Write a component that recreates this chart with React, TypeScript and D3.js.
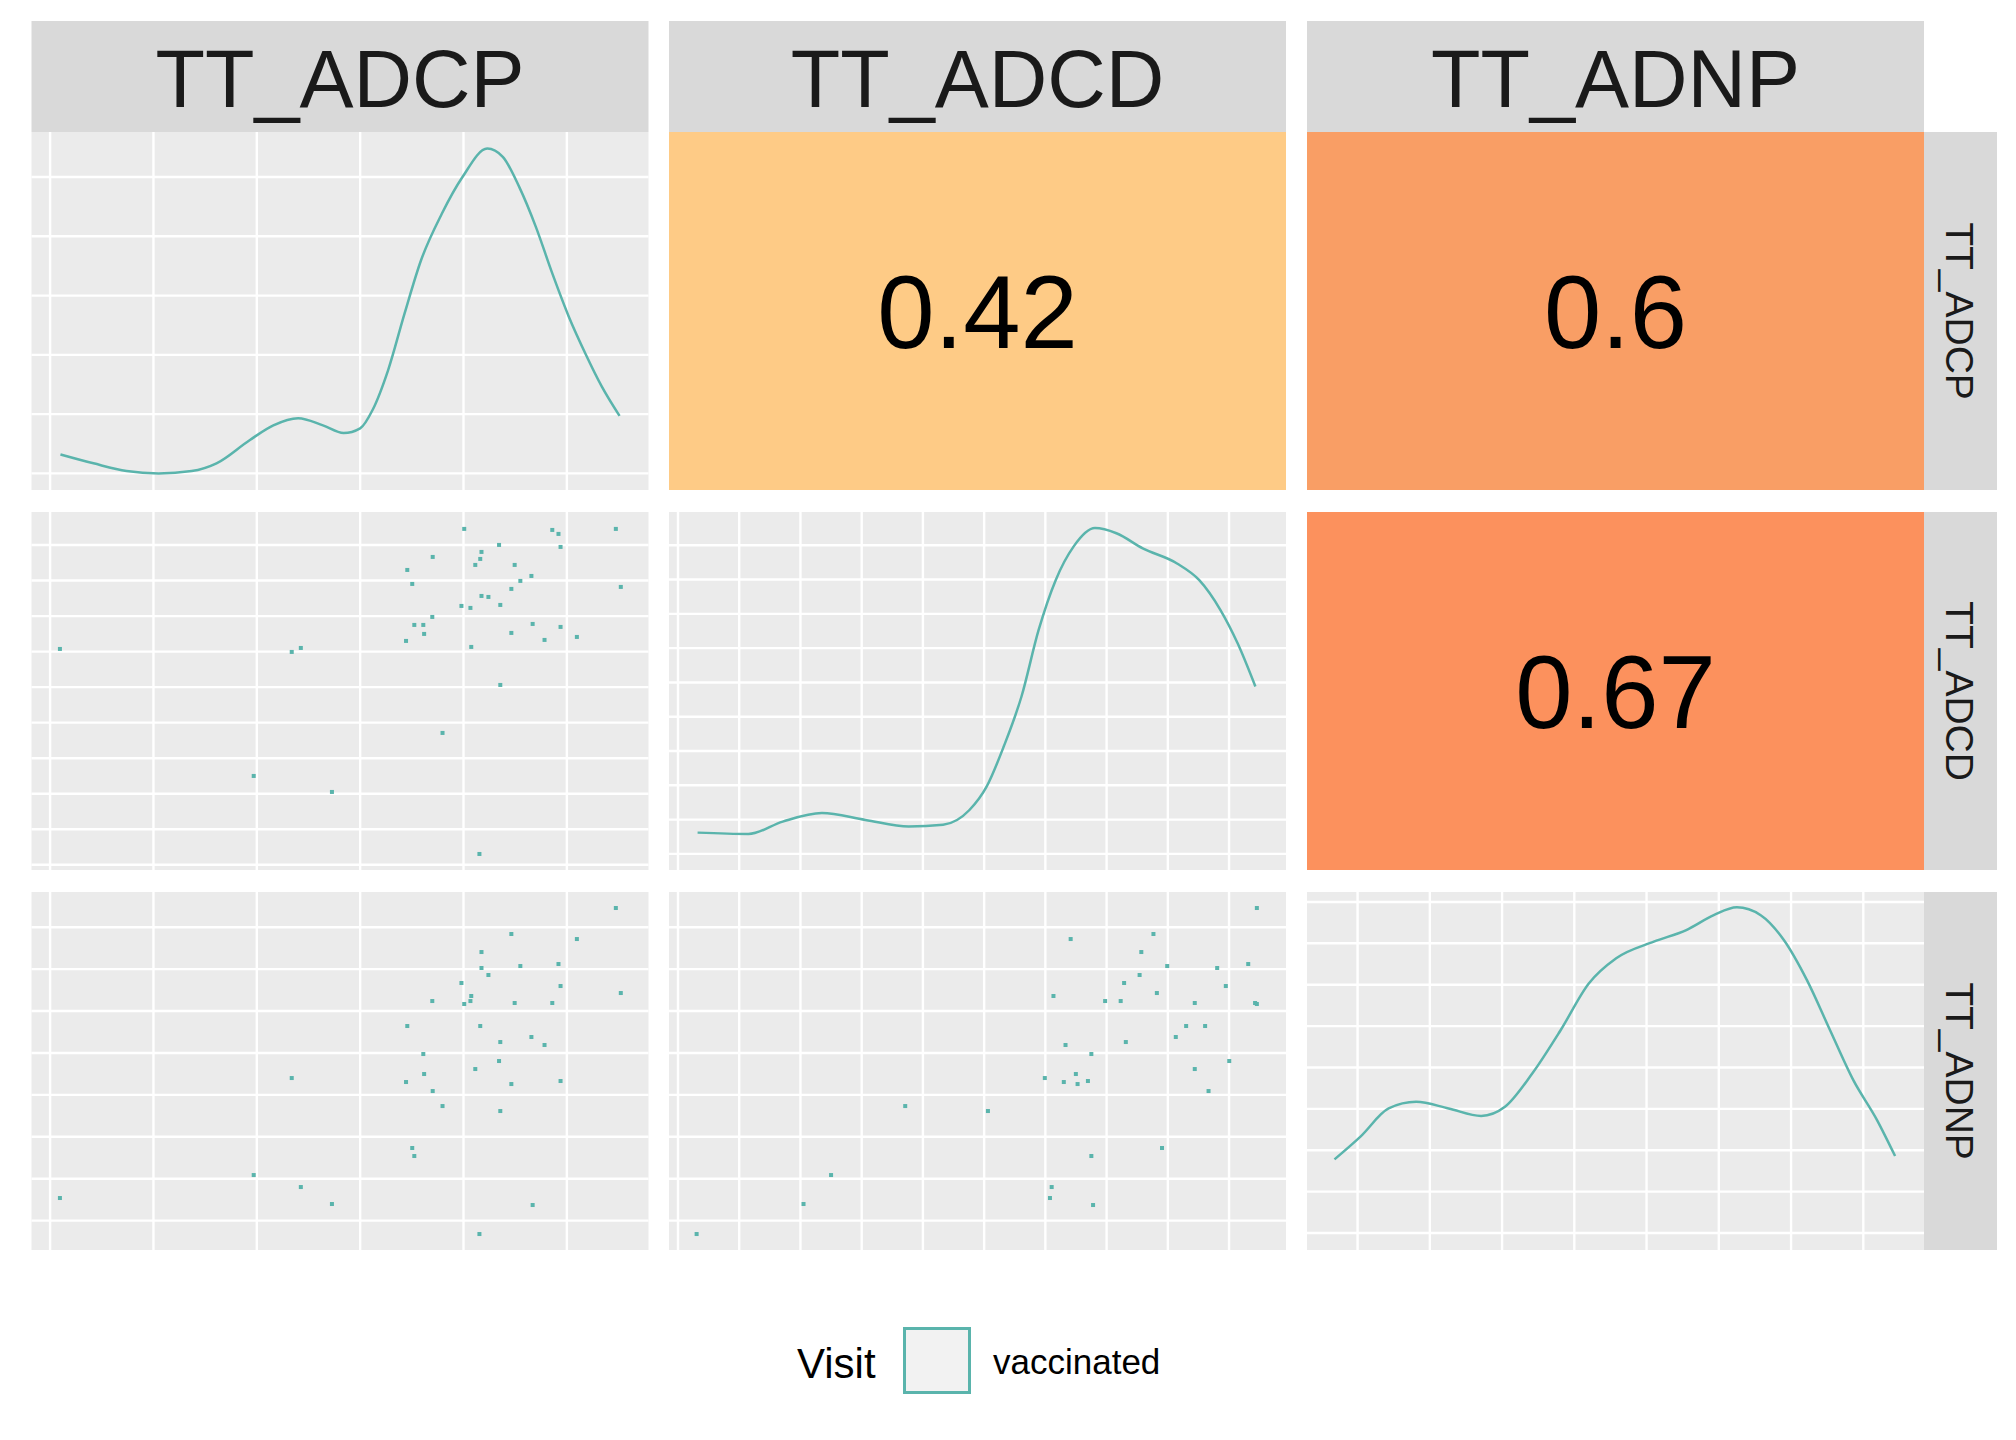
import React from 'react';
import * as d3 from 'd3';

// variables (column / row order)
const variables = ['TT_ADCP', 'TT_ADCD', 'TT_ADNP'];

// per-observation values (in axis grid units)
const adcp = [4.007, 4.859, 4.919, 5.474, 4.344, 4.939, 4.174, 3.702, 4.162, 3.456, 4.114, 4.495, 4.657, 4.55, 3.504, 4.463, 5.522, 4.174, 4.241, 3.98, 4.067, 4.356, 3.698, 3.524, 3.611, 4.669, 4.939, 3.619, 4.463, 3.444, 4.784, 5.097, 0.095, 2.426, 2.338, 4.075, 4.356, 3.797, 1.97, 2.727, 4.154];
const adcd = [9.454, 9.425, 9.313, 9.454, 9.003, 8.947, 8.806, 8.665, 8.609, 8.299, 8.44, 8.44, 8.13, 7.99, 7.905, 7.765, 7.821, 7.567, 7.539, 7.286, 7.23, 7.314, 6.976, 6.751, 6.751, 6.779, 6.695, 6.498, 6.526, 6.301, 6.329, 6.413, 6.075, 6.103, 5.991, 6.132, 5.062, 3.711, 2.5, 2.05, 0.304];
const adnp = [5.168, 5.192, 6.122, 7.458, 3.808, 5.597, 6.027, 3.092, 4.643, 4.643, 3.617, 5.192, 4.381, 6.074, 1.733, 6.838, 5.43, 6.408, 5.86, 5.669, 5.239, 4.261, 5.239, 1.542, 3.975, 0.373, 3.331, 3.498, 3.259, 3.307, 4.19, 6.718, 0.54, 0.802, 3.402, 5.359, 2.615, 2.734, 1.088, 0.397, -0.319];

// axis domains and gridline ticks per variable
const varDomains: [number, number][] = [[-0.18, 5.79], [-0.147, 9.93], [-0.7, 7.84]];
const varTicks = [[0, 1, 2, 3, 4, 5], [0, 1, 2, 3, 4, 5, 6, 7, 8, 9], [0, 1, 2, 3, 4, 5, 6, 7]];

// density curves on the diagonal: [x, density]
const densADCP: [number, number][] = [[0.1, 0.32], [0.42, 0.17], [0.74, 0.04], [1.05, 0], [1.37, 0.04], [1.61, 0.17], [1.93, 0.56], [2.16, 0.81], [2.4, 0.93], [2.64, 0.81], [2.84, 0.68], [3.0, 0.76], [3.12, 1.07], [3.27, 1.74], [3.43, 2.7], [3.59, 3.6], [3.79, 4.38], [3.99, 5.0], [4.23, 5.48], [4.38, 5.34], [4.54, 4.83], [4.7, 4.16], [4.86, 3.37], [5.02, 2.64], [5.18, 2.02], [5.34, 1.46], [5.51, 0.97]];
const densADCD: [number, number][] = [[0.32, 0.62], [1.15, 0.58], [1.71, 0.94], [2.35, 1.19], [3.06, 0.99], [3.77, 0.8], [4.33, 0.85], [4.76, 1.28], [5.04, 1.96], [5.32, 3.13], [5.61, 4.59], [5.89, 6.53], [6.17, 7.99], [6.46, 8.96], [6.81, 9.5], [7.16, 9.35], [7.59, 8.91], [8.15, 8.47], [8.51, 7.99], [8.86, 7.11], [9.14, 6.14], [9.43, 4.88]];
const densADNP: [number, number][] = [[-0.32, 1.78], [0.04, 2.33], [0.43, 3.01], [0.81, 3.17], [1.26, 3.01], [1.71, 2.83], [2.04, 3.05], [2.42, 3.86], [2.81, 4.9], [3.2, 6.03], [3.58, 6.64], [4.1, 7.04], [4.55, 7.32], [4.93, 7.68], [5.25, 7.87], [5.58, 7.68], [5.9, 7.08], [6.22, 6.11], [6.54, 4.9], [6.86, 3.7], [7.19, 2.73], [7.44, 1.86]];
const densities = [densADCP, densADCD, densADNP];
const densDomains: [number, number][] = [[-0.28, 5.76], [-0.47, 9.97], [-0.41, 8.24]];
const densTicks = [[0, 1, 2, 3, 4, 5], [0, 1, 2, 3, 4, 5, 6, 7, 8, 9], [0, 1, 2, 3, 4, 5, 6, 7, 8]];

// correlations (upper triangle): [row, col, value]
const corrs: [number, number, number][] = [[0, 1, 0.42], [0, 2, 0.6], [1, 2, 0.67]];
const corrColors = ['#FECB86', '#F99E65', '#FC915D'];

const legendTitle = 'Visit';
const legendLabel = 'vaccinated';

const TEAL = '#5AB4AC';
const colX = [31.5, 669, 1307];
const rowY = [132, 512, 892];
const PW = 617;
const PH = 358;
const FONT = '"Liberation Sans", Arial, sans-serif';

function Grid({ xs, ys }: { xs: number[]; ys: number[] }) {
  return (
    <g>
      {xs.map((x, i) => <line key={'x' + i} x1={x} x2={x} y1={0} y2={PH} stroke="#fff" strokeWidth={2.4} />)}
      {ys.map((y, i) => <line key={'y' + i} x1={0} x2={PW} y1={y} y2={y} stroke="#fff" strokeWidth={2.4} />)}
    </g>
  );
}

export default function App() {
  const xScales = varDomains.map((d) => d3.scaleLinear().domain(d).range([0, PW]));
  const yScales = varDomains.map((d) => d3.scaleLinear().domain(d).range([PH, 0]));
  const cols = [adcp, adcd, adnp];

  const panels: React.ReactNode[] = [];
  for (let r = 0; r < 3; r++) {
    for (let c = 0; c < 3; c++) {
      const key = `${r}-${c}`;
      const tf = `translate(${colX[c]},${rowY[r]})`;
      if (c > r) {
        const idx = corrs.findIndex((k) => k[0] === r && k[1] === c);
        const v = corrs[idx][2];
        panels.push(
          <g key={key} transform={tf}>
            <rect width={PW} height={PH} fill={corrColors[idx]} />
            <text x={PW / 2} y={PH / 2 + 37} textAnchor="middle" fontSize={103} fontFamily={FONT} fill="#000">{String(v)}</text>
          </g>
        );
      } else if (c === r) {
        const xs = xScales[c];
        const ys = d3.scaleLinear().domain(densDomains[r]).range([PH, 0]);
        const line = d3.line<[number, number]>().x((d) => xs(d[0])).y((d) => ys(d[1])).curve(d3.curveMonotoneX);
        panels.push(
          <g key={key} transform={tf}>
            <rect width={PW} height={PH} fill="#EBEBEB" />
            <Grid xs={varTicks[c].map((t) => xs(t))} ys={densTicks[r].map((t) => ys(t))} />
            <path d={line(densities[r]) || ''} fill="none" stroke={TEAL} strokeWidth={2.5} />
          </g>
        );
      } else {
        const xs = xScales[c];
        const ys = yScales[r];
        const xv = cols[c];
        const yv = cols[r];
        panels.push(
          <g key={key} transform={tf}>
            <rect width={PW} height={PH} fill="#EBEBEB" />
            <Grid xs={varTicks[c].map((t) => xs(t))} ys={varTicks[r].map((t) => ys(t))} />
            {xv.map((x, i) => (
              <rect key={i} x={xs(x) - 2} y={ys(yv[i]) - 2} width={4} height={4} fill={TEAL} />
            ))}
          </g>
        );
      }
    }
  }

  return (
    <svg width={2016} height={1440} style={{ position: 'absolute', left: 0, top: 0, background: '#fff' }}>
      <rect width={2016} height={1440} fill="#fff" />
      {variables.map((v, c) => (
        <g key={'ts' + c} transform={`translate(${colX[c]},21)`}>
          <rect width={PW} height={111} fill="#D9D9D9" />
          <text x={PW / 2} y={86} textAnchor="middle" fontSize={81} fontFamily={FONT} fill="#1A1A1A">{v}</text>
        </g>
      ))}
      {variables.map((v, r) => (
        <g key={'rs' + r} transform={`translate(${colX[2] + PW},${rowY[r]})`}>
          <rect width={73} height={PH} fill="#D9D9D9" />
          <text transform={`translate(${22},${PH / 2}) rotate(90)`} textAnchor="middle" fontSize={39} fontFamily={FONT} fill="#1A1A1A">{v}</text>
        </g>
      ))}
      {panels}
      <text x={797} y={1378} fontSize={42} fontFamily={FONT} fill="#000">{legendTitle}</text>
      <rect x={904.5} y={1328.5} width={65} height={64} fill="#F2F2F2" stroke={TEAL} strokeWidth={3} />
      <text x={993} y={1374} fontSize={35} fontFamily={FONT} fill="#000">{legendLabel}</text>
    </svg>
  );
}
